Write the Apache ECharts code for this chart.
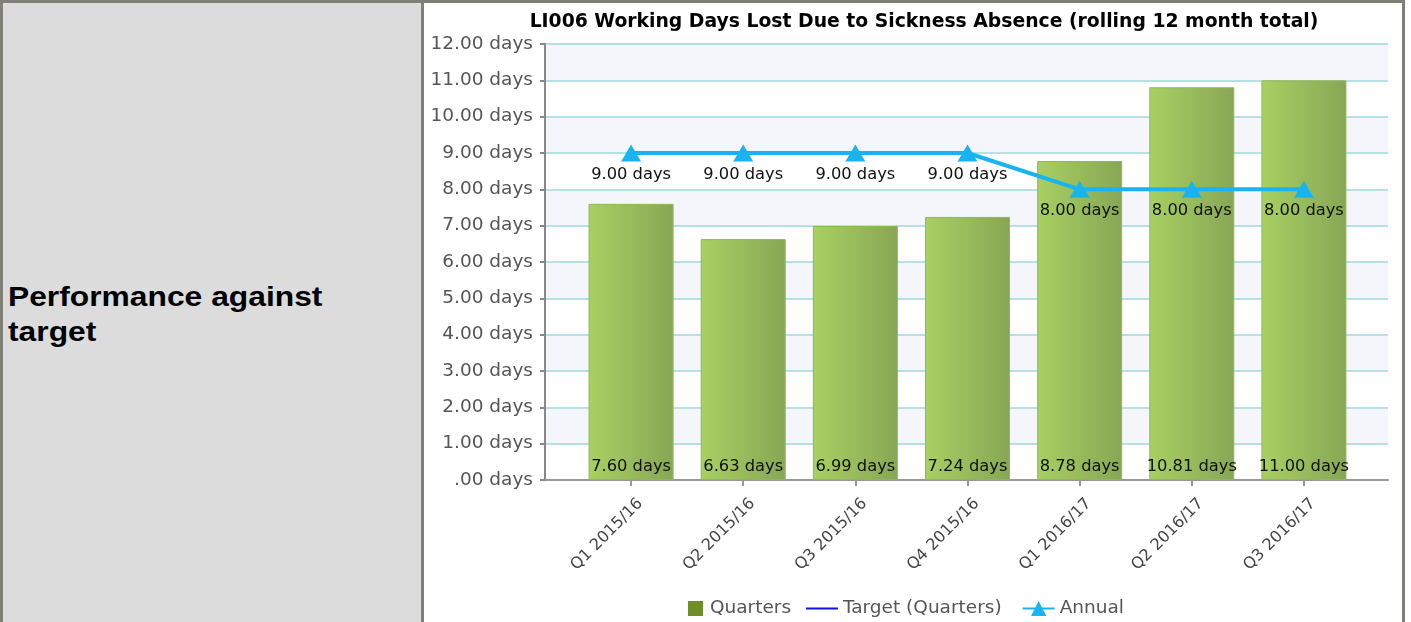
<!DOCTYPE html>
<html>
<head>
<meta charset="utf-8">
<script src="https://cdn.jsdelivr.net/npm/echarts@6/dist/echarts.min.js"></script>
<style>
  html, body { margin: 0; padding: 0; background: #fff; }
  body { width: 1411px; height: 622px; position: relative; overflow: hidden; }
  .frame { position: absolute; left: 0; top: 0; width: 1399px; height: 630px;
           border: 3px solid #7f7f77; border-bottom: none; }
  .label-cell { position: absolute; left: 3px; top: 3px; width: 418px; height: 630px;
                background: #dcdcdc; border-right: 3px solid #7f7f77; }
  .label-cell span { position: absolute; left: 5px; top: 276px; font-family: "Liberation Sans", Arial, sans-serif;
                     font-weight: bold; font-size: 28px; line-height: 35px; color: #000;
                     transform: scaleX(1.135); transform-origin: left top; white-space: nowrap; }
  #chart { position: absolute; left: 0; top: 0; width: 1411px; height: 622px; }
</style>
</head>
<body>
<div class="frame"></div>
<div class="label-cell"><span>Performance against<br>target</span></div>
<div id="chart"></div>
<script>
// chart data
const categories = ['Q1 2015/16', 'Q2 2015/16', 'Q3 2015/16', 'Q4 2015/16', 'Q1 2016/17', 'Q2 2016/17', 'Q3 2016/17'];
const quarters = [7.60, 6.63, 6.99, 7.24, 8.78, 10.81, 11.00];
const annual = [9.00, 9.00, 9.00, 9.00, 8.00, 8.00, 8.00];
const targetQuarters = [];
const yTicks = { min: 0, max: 12, interval: 1 };

const FONT = 'DejaVu Sans';
const days = v => (v === 0 ? '.00' : v.toFixed(2)) + ' days';
const legendText = { fontFamily: FONT, fontSize: 18.5, color: '#555' };

const chart = echarts.init(document.getElementById('chart'));

const option = {
  animation: false,
  backgroundColor: 'transparent',
  title: {
    text: 'LI006 Working Days Lost Due to Sickness Absence (rolling 12 month total)',
    left: 919,
    textAlign: 'center',
    top: 8,
    textStyle: { fontFamily: FONT, fontSize: 18.8, fontWeight: 'bold', color: '#000' }
  },
  legend: [
    {
      // the bar gets a small square
      left: 683, top: 594,
      itemWidth: 15, itemHeight: 15, itemGap: 10,
      textStyle: Object.assign({ padding: [0, 0, 0, 2] }, legendText),
      data: [{ name: 'Quarters', icon: 'rect', itemStyle: { color: '#6e8f27', borderWidth: 0 } }]
    },
    {
      left: 801, top: 594,
      itemWidth: 32, itemHeight: 19, itemGap: 20,
      textStyle: legendText,
      data: [
        { name: 'Target (Quarters)', icon: 'path://M0,0h32v2h-32z', itemStyle: { color: '#1010ee' } },
        { name: 'Annual' }
      ]
    }
  ],
  grid: [
    // background grid: split lines, bands, y axis
    { left: 545, top: 44, width: 843, height: 436 },
    // data grid: narrower band range inside
    { left: 575, top: 44, width: 785, height: 436 }
  ],
  xAxis: [
    {
      gridIndex: 0, type: 'value', min: 0, max: 1,
      axisLine: { show: true, lineStyle: { color: '#999', width: 2 } },
      axisTick: { show: false }, axisLabel: { show: false }, splitLine: { show: false }
    },
    {
      gridIndex: 1, type: 'category', data: categories,
      axisLine: { show: false },
      axisTick: { show: true, alignWithLabel: true, length: 6, lineStyle: { color: '#999', width: 2 } },
      axisLabel: { rotate: 45, margin: 12, verticalAlign: 'top', lineHeight: 26, fontFamily: FONT, fontSize: 16, color: '#444' }
    }
  ],
  yAxis: [
    {
      gridIndex: 0, type: 'value', min: yTicks.min, max: yTicks.max, interval: yTicks.interval,
      axisLine: { show: true, lineStyle: { color: '#888', width: 2 } },
      axisTick: { show: true, length: 5, lineStyle: { color: '#888', width: 2 } },
      axisLabel: { formatter: days, margin: 12, fontFamily: FONT, fontSize: 18.5, color: '#555' },
      splitLine: { show: true, lineStyle: { color: '#b6e0e8', width: 2 } },
      splitArea: { show: true, areaStyle: { color: ['#ffffff', '#f4f6fc'] } }
    },
    {
      gridIndex: 1, type: 'value', min: yTicks.min, max: yTicks.max, interval: yTicks.interval, show: false,
      splitLine: { show: false }
    }
  ],
  series: [
    {
      name: 'Quarters',
      type: 'bar',
      xAxisIndex: 1, yAxisIndex: 1,
      data: quarters,
      barWidth: 85,
      itemStyle: {
        color: new echarts.graphic.LinearGradient(0, 0, 1, 0, [
          { offset: 0, color: '#a8d062' },
          { offset: 1, color: '#88a656' }
        ]),
        borderColor: '#93b752',
        borderWidth: 1
      },
      label: {
        show: true, position: 'insideBottom', distance: 5,
        formatter: p => days(p.value),
        fontFamily: FONT, fontSize: 16.3, color: '#111'
      }
    },
    {
      name: 'Target (Quarters)',
      type: 'line',
      xAxisIndex: 1, yAxisIndex: 1,
      data: targetQuarters,
      symbol: 'none',
      lineStyle: { color: '#1010ee', width: 2 },
      itemStyle: { color: '#1010ee' }
    },
    {
      name: 'Annual',
      type: 'line',
      xAxisIndex: 1, yAxisIndex: 1,
      data: annual,
      symbol: 'triangle',
      symbolSize: [20, 17],
      lineStyle: { color: '#19b4f0', width: 4 },
      itemStyle: { color: '#19b4f0' },
      label: {
        show: true, position: 'bottom', distance: 5,
        formatter: p => days(p.value),
        fontFamily: FONT, fontSize: 16.3, color: '#111'
      },
      z: 5
    }
  ]
};

chart.setOption(option);
</script>
</body>
</html>
